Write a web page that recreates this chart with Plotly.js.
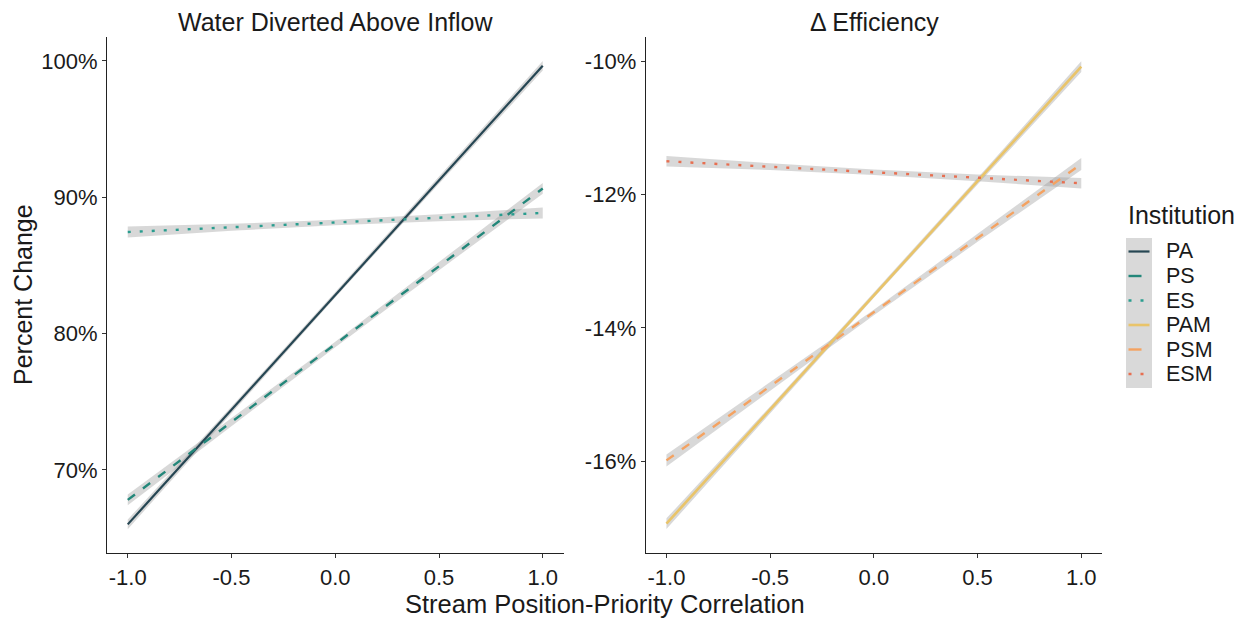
<!DOCTYPE html>
<html>
<head>
<meta charset="utf-8">
<script src="https://cdn.plot.ly/plotly-3.0.1.min.js"></script>
<style>html,body{margin:0;padding:0;background:#fff;}#chart{width:1249px;height:620px;}</style>
</head>
<body>
<div id="chart"></div>
<script>
// ---- data ----
const xVals = [-1, -0.5, 0, 0.5, 1];
const xTickVals = [-1, -0.5, 0, 0.5, 1];
const xTickText = ["-1.0", "-0.5", "0.0", "0.5", "1.0"];

// Left panel: Water Diverted Above Inflow (%)
const PA = [66.0, 74.4, 82.85, 91.25, 99.65];
const PA_lo = [65.65, 74.15, 82.65, 91.0, 99.3];
const PA_hi = [66.35, 74.65, 83.05, 91.5, 100.0];
const PS = [67.8, 73.5, 79.2, 84.95, 90.65];
const PS_lo = [67.4, 73.2, 79.0, 84.65, 90.25];
const PS_hi = [68.2, 73.8, 79.4, 85.25, 91.05];
const ES = [87.45, 87.8, 88.15, 88.5, 88.85];
const ES_lo = [87.05, 87.55, 87.95, 88.25, 88.45];
const ES_hi = [87.85, 88.05, 88.35, 88.75, 89.25];
const leftTickVals = [70, 80, 90, 100];
const leftTickText = ["70%", "80%", "90%", "100%"];

// Right panel: Δ Efficiency (%)
const PAM = [-16.94, -15.23, -13.51, -11.80, -10.08];
const PAM_lo = [-17.02, -15.28, -13.55, -11.85, -10.16];
const PAM_hi = [-16.86, -15.18, -13.47, -11.75, -10.00];
const PSM = [-15.99, -14.88, -13.77, -12.65, -11.54];
const PSM_lo = [-16.08, -14.94, -13.81, -12.71, -11.63];
const PSM_hi = [-15.90, -14.82, -13.73, -12.59, -11.45];
const ESM = [-11.50, -11.58, -11.665, -11.75, -11.83];
const ESM_lo = [-11.58, -11.63, -11.705, -11.80, -11.91];
const ESM_hi = [-11.42, -11.53, -11.625, -11.70, -11.75];
const rightTickVals = [-16, -14, -12, -10];
const rightTickText = ["-16%", "-14%", "-12%", "-10%"];

const seriesNames = ["PA", "PS", "ES", "PAM", "PSM", "ESM"];
const panelTitles = ["Water Diverted Above Inflow", "Δ Efficiency"];
const xTitle = "Stream Position-Priority Correlation";
const yTitle = "Percent Change";
const legendTitle = "Institution";

// ---- styles ----
const ribbonFill = "rgba(153,153,153,0.38)";
const styles = {
  PA:  {color: "#264653", dash: "solid", width: 2.2, keyDash: "solid"},
  PS:  {color: "#23877a", dash: "9px,10px", width: 2.4, keyDash: "13px,20px"},
  ES:  {color: "#2a9d8f", dash: "3px,9px", width: 2.4, keyDash: "3px,9px"},
  PAM: {color: "#e9c46a", dash: "solid", width: 2.6, keyDash: "solid"},
  PSM: {color: "#f4a261", dash: "9px,10px", width: 2.4, keyDash: "13px,20px"},
  ESM: {color: "#e76f51", dash: "3px,9px", width: 2.4, keyDash: "3px,9px"}
};

const panels = [
  {xa: "x", ya: "y", names: ["PA", "PS", "ES"], vals: [PA, PS, ES], lo: [PA_lo, PS_lo, ES_lo], hi: [PA_hi, PS_hi, ES_hi]},
  {xa: "x2", ya: "y2", names: ["PAM", "PSM", "ESM"], vals: [PAM, PSM, ESM], lo: [PAM_lo, PSM_lo, ESM_lo], hi: [PAM_hi, PSM_hi, ESM_hi]}
];

const traces = [];
panels.forEach(p => {
  p.names.forEach((n, i) => {
    traces.push({x: xVals, y: p.lo[i], xaxis: p.xa, yaxis: p.ya, mode: "lines",
      line: {width: 0}, showlegend: false, hoverinfo: "skip"});
    traces.push({x: xVals, y: p.hi[i], xaxis: p.xa, yaxis: p.ya, mode: "lines",
      line: {width: 0}, fill: "tonexty", fillcolor: ribbonFill, showlegend: false, hoverinfo: "skip"});
  });
});
panels.forEach(p => {
  p.names.forEach((n, i) => {
    traces.push({x: xVals, y: p.vals[i], xaxis: p.xa, yaxis: p.ya, mode: "lines", name: n, showlegend: false,
      line: {color: styles[n].color, dash: styles[n].dash, width: styles[n].width}});
  });
});

// ---- layout geometry (pixels -> paper) ----
const M = {l: 107, r: 147, t: 37, b: 67};
const W = 1249, H = 620;
const pw = W - M.l - M.r, ph = H - M.t - M.b;
const px2x = px => (px - M.l) / pw;
const px2y = py => (H - M.b - py) / ph;

const fontFam = "Liberation Sans, Arial, sans-serif";
const txt = "#1a1a1a";
const axisCommon = {
  showgrid: false, zeroline: false, showline: true, linecolor: "#222", linewidth: 1.1,
  ticks: "outside", ticklen: 4, tickcolor: "#333", tickwidth: 1,
  tickfont: {family: fontFam, size: 22, color: txt}
};

const annotations = [
  {text: panelTitles[0], x: px2x(335), y: px2y(22)},
  {text: panelTitles[1], x: px2x(874), y: px2y(22)},
  {text: xTitle, x: px2x(604.5), y: px2y(604), font: {family: fontFam, size: 25.5, color: txt}},
  {text: yTitle, x: px2x(23), y: 0.5, textangle: -90, font: {family: fontFam, size: 25, color: txt}},
  {text: legendTitle, x: px2x(1126), y: px2y(215), xanchor: "left", font: {family: fontFam, size: 25, color: txt}}
].map(a => Object.assign({xref: "paper", yref: "paper", xanchor: "center", yanchor: "middle", showarrow: false,
  font: {family: fontFam, size: 25, color: txt}}, a));

const shapes = [
  {type: "rect", xref: "paper", yref: "paper", x0: px2x(1126), x1: px2x(1152), y0: px2y(388), y1: px2y(238),
    fillcolor: "#d9d9d9", line: {width: 0}}
];
const legendY0 = 251.5, legendStep = 24.5;
seriesNames.forEach((n, i) => {
  const py = legendY0 + i * legendStep;
  shapes.push({type: "line", xref: "paper", yref: "paper", x0: px2x(1128.5), x1: px2x(1149.5), y0: px2y(py), y1: px2y(py),
    line: {color: styles[n].color, dash: styles[n].keyDash, width: styles[n].width}});
  annotations.push({text: n, xref: "paper", yref: "paper", x: px2x(1164), y: px2y(py), xanchor: "left", yanchor: "middle",
    showarrow: false, font: {family: fontFam, size: 21.5, color: txt}});
});

const layout = {
  width: W, height: H,
  paper_bgcolor: "#fff", plot_bgcolor: "#fff",
  margin: M,
  font: {family: fontFam, color: txt},
  showlegend: false,
  xaxis: Object.assign({}, axisCommon, {domain: [0, px2x(563.5)], range: [-1.1, 1.1], tickvals: xTickVals, ticktext: xTickText}),
  xaxis2: Object.assign({}, axisCommon, {domain: [px2x(645.7), 1], range: [-1.1, 1.1], tickvals: xTickVals, ticktext: xTickText, anchor: "y2"}),
  yaxis: Object.assign({}, axisCommon, {range: [63.9, 101.76], tickvals: leftTickVals, ticktext: leftTickText}),
  yaxis2: Object.assign({}, axisCommon, {range: [-17.38, -9.635], tickvals: rightTickVals, ticktext: rightTickText, anchor: "x2"}),
  annotations: annotations,
  shapes: shapes
};

Plotly.newPlot("chart", traces, layout, {staticPlot: true, displayModeBar: false});
</script>
</body>
</html>
